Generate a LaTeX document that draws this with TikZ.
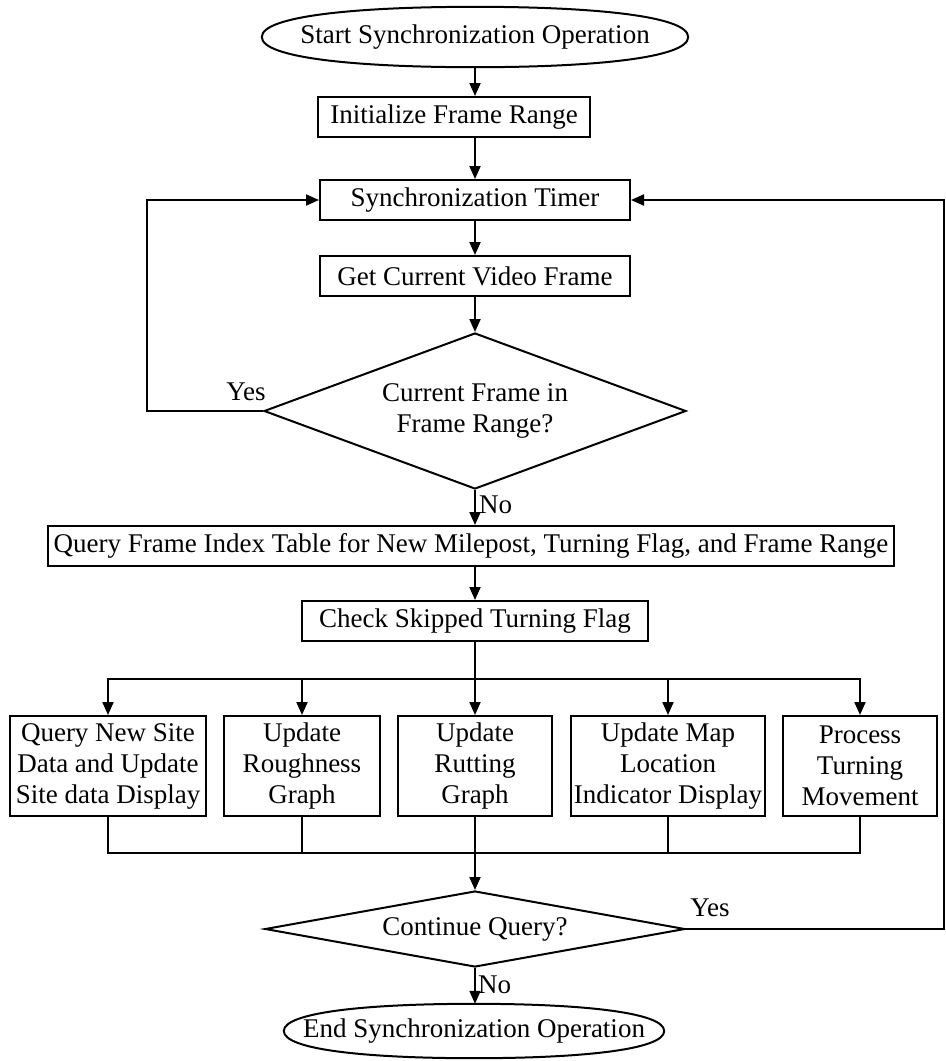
\documentclass[tikz,border=0pt]{standalone}
\usepackage{fontspec}
\setmainfont{Liberation Serif}
\usetikzlibrary{arrows.meta,shapes.geometric,calc}
\newcommand\termoval[1]{%
  \draw[line width=2bp] (#1.west)
    .. controls ($(#1.west)!0.7!(#1.north west)$) and ($(#1.north west)!0.45!(#1.north)$) .. (#1.north)
    .. controls ($(#1.north east)!0.45!(#1.north)$) and ($(#1.east)!0.7!(#1.north east)$) .. (#1.east)
    .. controls ($(#1.east)!0.7!(#1.south east)$) and ($(#1.south east)!0.45!(#1.south)$) .. (#1.south)
    .. controls ($(#1.south west)!0.45!(#1.south)$) and ($(#1.west)!0.7!(#1.south west)$) .. (#1.west) -- cycle;}
\begin{document}
\begin{tikzpicture}[x=1bp,y=-1bp,
  every node/.style={font=\fontsize{27bp}{31bp}\selectfont},
  term/.style={rectangle, inner sep=0pt},
  box/.style={rectangle, draw, line width=2bp, inner sep=0pt, align=center},
  dec/.style={diamond, draw, line width=2bp, inner sep=0pt, align=center},
  lbl/.style={inner sep=0pt},
  conn/.style={line width=2bp},
  arr/.style={line width=2bp, -{Triangle[length=13bp,width=11bp]}}]
\useasboundingbox (0,0) rectangle (946,1061);

\node[term, minimum width=426bp, minimum height=60bp] (start) at (475,37) {Start Synchronization Operation};
\termoval{start}
\node[box, minimum width=272bp, minimum height=40bp] (init) at (454,117) {Initialize Frame Range};
\node[box, minimum width=310bp, minimum height=40bp] (sync) at (475,200) {Synchronization Timer};
\node[box, minimum width=310bp, minimum height=40bp] (get) at (475,276) {Get Current Video Frame};
\node[dec, aspect=2.7, minimum width=422bp, minimum height=156bp] (d1) at (475,411) {Current Frame in\\Frame Range?};
\node[box, minimum width=846bp, minimum height=40bp] (q) at (471,546) {Query Frame Index Table for New Milepost, Turning Flag, and Frame Range};
\node[box, minimum width=346bp, minimum height=40bp] (chk) at (475,621) {Check Skipped Turning Flag};

\node[box, minimum width=196bp, minimum height=100bp] (b1) at (108,766) {Query New Site\\Data and Update\\Site data Display};
\node[box, minimum width=156bp, minimum height=100bp] (b2) at (302,766) {Update\\Roughness\\Graph};
\node[box, minimum width=154bp, minimum height=100bp] (b3) at (475,766) {Update\\Rutting\\Graph};
\node[box, minimum width=194bp, minimum height=100bp] (b4) at (668,766) {Update Map\\Location\\Indicator Display};
\node[box, minimum width=154bp, minimum height=100bp] (b5) at (860,766) {Process\\Turning\\Movement};

\node[dec, aspect=5.5, minimum width=420bp, minimum height=76bp] (d2) at (475,929) {Continue Query?};
\node[term, minimum width=380bp, minimum height=54bp] (end) at (474,1031) {End Synchronization Operation};
\termoval{end}

\node[lbl] (yes1) at (246,392) {Yes};
\node[lbl, anchor=west] (no1) at (479,505) {No};
\node[lbl] (yes2) at (710,908) {Yes};
\node[lbl, anchor=west] (no2) at (478,985) {No};

\coordinate (dist) at (475,679);
\coordinate (col) at (475,853);
\coordinate (lloop) at (147,200);
\coordinate (rloop) at (944,200);

\draw[arr] (start.south) -- (start.south |- init.north);
\draw[arr] (sync.north |- init.south) -- (sync.north);
\draw[arr] (sync.south) -- (get.north);
\draw[arr] (get.south) -- (d1.north);
\draw[arr] (d1.south) -- (d1.south |- q.north);
\draw[arr] (chk.north |- q.south) -- (chk.north);
\draw[conn] (chk.south) -- (dist);
\draw[arr] (dist) -| (b1.north);
\draw[arr] (dist) -| (b2.north);
\draw[arr] (dist) -- (b3.north);
\draw[arr] (dist) -| (b4.north);
\draw[arr] (dist) -| (b5.north);
\draw[conn] (b1.south) |- (col);
\draw[conn] (b2.south) |- (col);
\draw[conn] (b4.south) |- (col);
\draw[conn] (b5.south) |- (col);
\draw[arr] (b3.south) -- (d2.north);
\draw[arr] (d2.south) -- (d2.south |- end.north);
\draw[arr] (d1.west) -| (lloop) -- (sync.west);
\draw[arr] (d2.east) -| (rloop) -- (sync.east);
\end{tikzpicture}
\end{document}
